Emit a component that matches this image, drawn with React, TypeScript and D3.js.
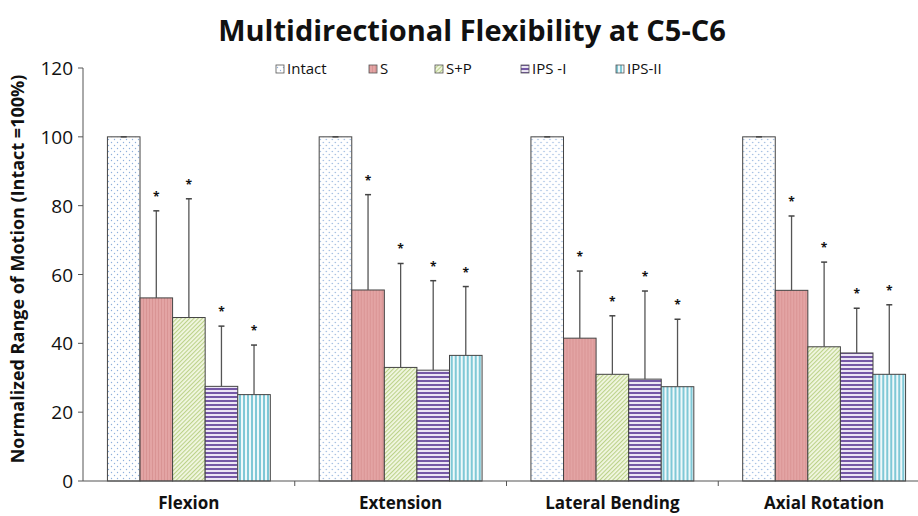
import React from "react";
import * as d3 from "d3";

const categories = ["Flexion", "Extension", "Lateral Bending", "Axial Rotation"];
const seriesNames = ["Intact", "S", "S+P", "IPS -I", "IPS-II"];

// mean values per series, in category order
const intact = [100, 100, 100, 100];
const sOnly = [53.2, 55.5, 41.5, 55.4];
const sPlusP = [47.5, 33, 31, 39];
const ipsOne = [27.5, 32.2, 29.6, 37.2];
const ipsTwo = [25.1, 36.5, 27.4, 31];

// top of the (upper) error bar
const intactErr = [100, 100, 100, 100];
const sOnlyErr = [78.5, 83.2, 61, 77];
const sPlusPErr = [82, 63.2, 48, 63.6];
const ipsOneErr = [45, 58.2, 55.2, 50.2];
const ipsTwoErr = [39.5, 56.5, 47, 51.2];

const yTicks = [0, 20, 40, 60, 80, 100, 120];

const values = [intact, sOnly, sPlusP, ipsOne, ipsTwo];
const errTops = [intactErr, sOnlyErr, sPlusPErr, ipsOneErr, ipsTwoErr];
const starred = [false, true, true, true, true];

const W = 918;
const H = 516;
const left = 83;
const right = 930; // axis runs past the right edge, as in the source
const top = 68;
const bottom = 481;

const font = "'Open Sans', 'Liberation Sans', sans-serif";

export default function App() {
  const x0 = d3.scaleBand().domain(categories).range([left, right]).paddingInner(0).paddingOuter(0);
  const x1 = d3
    .scaleBand()
    .domain(seriesNames)
    .range([0, x0.bandwidth()])
    .paddingInner(0)
    .paddingOuter(0.75);
  const y = d3.scaleLinear().domain([0, 120]).range([bottom, top]);

  const fills = ["url(#pDots)", "url(#pRed)", "url(#pGreen)", "url(#pPurple)", "url(#pBlue)"];

  const legendX = [276, 369, 435, 521, 616];

  return (
    <svg width={W} height={H} style={{ position: "absolute", left: 0, top: 0, background: "#fff" }}>
      <defs>
        <pattern id="pDots" width="6" height="6" patternUnits="userSpaceOnUse">
          <rect width="6" height="6" fill="#fff" />
          <circle cx="1.5" cy="1.5" r="0.7" fill="#8fb0dc" />
          <circle cx="4.5" cy="4.5" r="0.7" fill="#8fb0dc" />
        </pattern>
        <pattern id="pRed" width="3" height="3" patternUnits="userSpaceOnUse">
          <rect width="3" height="3" fill="#e3a4a4" />
          <rect width="1" height="3" fill="#d99494" />
        </pattern>
        <pattern id="pGreen" width="3" height="3" patternUnits="userSpaceOnUse" patternTransform="rotate(45)">
          <rect width="3" height="3" fill="#f2f7e2" />
          <rect width="1.1" height="3" fill="#bcd28a" />
        </pattern>
        <pattern id="pPurple" width="4" height="4" patternUnits="userSpaceOnUse">
          <rect width="4" height="4" fill="#ece6f4" />
          <rect width="4" height="2" fill="#7558a6" />
        </pattern>
        <pattern id="pBlue" width="4" height="4" patternUnits="userSpaceOnUse">
          <rect width="4" height="4" fill="#eef8fa" />
          <rect width="2" height="4" fill="#7fc8d6" />
        </pattern>
      </defs>

      <text x={472} y={41} textAnchor="middle" fontFamily={font} fontWeight="bold" fontSize={29} fill="#111">
        Multidirectional Flexibility at C5-C6
      </text>

      {/* legend */}
      {seriesNames.map((name, i) => (
        <g key={name} transform={`translate(${legendX[i]},72)`}>
          <rect x={0} y={-7} width={8} height={8} fill={fills[i]} stroke="#555" strokeWidth={0.8} />
          <text x={11} y={2} fontFamily={font} fontSize={15} fill="#111">
            {name}
          </text>
        </g>
      ))}

      {/* y axis */}
      <line x1={left} x2={left} y1={top} y2={bottom} stroke="#555" strokeWidth={1} />
      {yTicks.map((t) => (
        <g key={t}>
          <line x1={left - 5} x2={left} y1={y(t)} y2={y(t)} stroke="#555" />
          <text x={left - 10} y={y(t) + 7} textAnchor="end" fontFamily={font} fontSize={19} fill="#111">
            {t}
          </text>
        </g>
      ))}
      <text
        transform={`translate(24,269) rotate(-90)`}
        textAnchor="middle"
        fontFamily={font}
        fontWeight="bold"
        fontSize={18}
        fill="#111"
      >
        Normalized Range of Motion  (Intact =100%)
      </text>

      {/* bars */}
      {categories.map((c, ci) => (
        <g key={c} transform={`translate(${x0(c)},0)`}>
          {seriesNames.map((s, si) => {
            const bx = x1(s) as number;
            const bw = x1.bandwidth();
            const v = values[si][ci];
            const e = errTops[si][ci];
            const cx = bx + bw / 2;
            return (
              <g key={s}>
                <rect x={bx} y={y(v)} width={bw} height={bottom - y(v)} fill={fills[si]} stroke="#444" strokeWidth={1} />
                <line x1={cx} x2={cx} y1={y(v)} y2={y(e)} stroke="#555" strokeWidth={1.3} />
                <line x1={cx - 3} x2={cx + 3} y1={y(e)} y2={y(e)} stroke="#444" strokeWidth={1.5} />
                {starred[si] && (
                  <text x={cx} y={y(e) - 10} textAnchor="middle" fontFamily={font} fontWeight="bold" fontSize={12} fill="#111">
                    *
                  </text>
                )}
              </g>
            );
          })}
          <text
            x={x0.bandwidth() / 2}
            y={509}
            textAnchor="middle"
            fontFamily={font}
            fontWeight="bold"
            fontSize={17}
            fill="#111"
          >
            {c}
          </text>
        </g>
      ))}

      {/* x axis */}
      <line x1={left} x2={right} y1={bottom} y2={bottom} stroke="#555" strokeWidth={1.2} />
      {categories.map((c) => (
        <line key={c} x1={x0(c)! + x0.bandwidth()} x2={x0(c)! + x0.bandwidth()} y1={bottom} y2={bottom + 5} stroke="#555" />
      ))}
    </svg>
  );
}
